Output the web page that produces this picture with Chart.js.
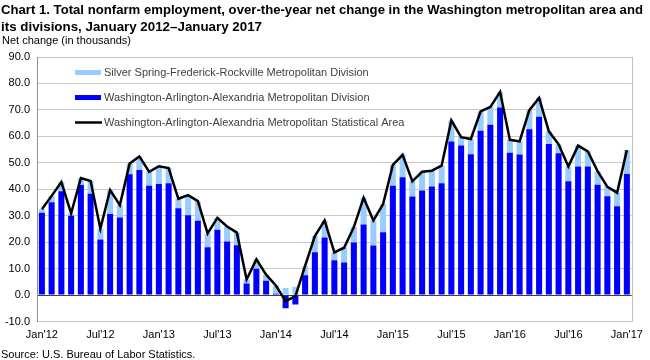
<!DOCTYPE html>
<html>
<head>
<meta charset="utf-8">
<script src="https://cdn.jsdelivr.net/npm/chart.js@4.4.1/dist/chart.umd.min.js"></script>
<style>
  html, body { margin: 0; padding: 0; background: #fff; }
  #wrap { position: relative; width: 650px; height: 360px; overflow: hidden; font-family: "Liberation Sans", Arial, sans-serif; }
  .tline { position: absolute; left: 1px; font-size: 13.5px; font-weight: bold; line-height: 17px; color: #000; white-space: nowrap; transform-origin: 0 50%; }
  #t1 { top: 1px; }
  #t2 { top: 18px; }
  #ytitle { position: absolute; left: 2px; top: 34px; font-size: 11px; color: #000; white-space: nowrap; }
  #source { position: absolute; left: 1px; top: 348px; font-size: 11px; color: #000; white-space: nowrap; }
  #chartBox { position: absolute; left: 0; top: 0; width: 650px; height: 360px; }
</style>
</head>
<body>
<div id="wrap">
  <div id="chartBox"><canvas id="c"></canvas></div>
  <div id="t1" class="tline">Chart 1. Total nonfarm employment, over-the-year net change in the Washington metropolitan area and</div>
  <div id="t2" class="tline">its divisions, January 2012–January 2017</div>
  <div id="ytitle">Net change (in thousands)</div>
  <div id="source">Source: U.S. Bureau of Labor Statistics.</div>
</div>
<script>
const months = [
  "Jan'12","Feb'12","Mar'12","Apr'12","May'12","Jun'12","Jul'12","Aug'12","Sep'12","Oct'12","Nov'12","Dec'12",
  "Jan'13","Feb'13","Mar'13","Apr'13","May'13","Jun'13","Jul'13","Aug'13","Sep'13","Oct'13","Nov'13","Dec'13",
  "Jan'14","Feb'14","Mar'14","Apr'14","May'14","Jun'14","Jul'14","Aug'14","Sep'14","Oct'14","Nov'14","Dec'14",
  "Jan'15","Feb'15","Mar'15","Apr'15","May'15","Jun'15","Jul'15","Aug'15","Sep'15","Oct'15","Nov'15","Dec'15",
  "Jan'16","Feb'16","Mar'16","Apr'16","May'16","Jun'16","Jul'16","Aug'16","Sep'16","Oct'16","Nov'16","Dec'16",
  "Jan'17"
];

// Washington-Arlington-Alexandria Metropolitan Division
const waaDivision = [
  31.1, 35.1, 39.2, 30.0, 41.6, 38.3, 21.0, 30.6, 29.3, 45.7, 47.3, 41.3,
  42.0, 42.3, 32.8, 30.2, 28.1, 18.1, 24.7, 20.2, 18.8, 4.4, 9.9, 5.4,
  0.5, -5.0, -3.6, 7.5, 16.2, 21.8, 13.2, 12.3, 19.9, 26.7, 18.7, 23.7,
  41.3, 44.5, 37.3, 39.5, 41.0, 42.3, 58.1, 56.5, 53.2, 62.1, 64.4, 70.9,
  53.8, 53.1, 62.7, 67.4, 57.1, 53.6, 43.0, 48.6, 48.6, 41.7, 37.4, 33.6,
  45.8
];

// Silver Spring-Frederick-Rockville Metropolitan Division
const silverSpring = [
  1.3, 2.4, 3.5, 0.9, 2.6, 4.8, 4.1, 9.1, 4.7, 4.0, 5.1, 5.3,
  6.7, 5.7, 3.6, 7.6, 7.4, 5.2, 4.5, 5.7, 4.8, 1.5, 3.6, 2.3,
  3.1, 2.7, 3.1, 3.5, 6.1, 6.4, 2.9, 5.6, 5.8, 10.1, 9.5, 10.7,
  7.9, 8.5, 5.7, 7.1, 6.0, 6.6, 7.9, 3.2, 5.8, 7.3, 6.7, 5.9,
  4.9, 5.0, 7.2, 7.1, 4.8, 3.4, 5.6, 7.9, 5.7, 5.1, 3.5, 5.1,
  9.0
];

// Washington-Arlington-Alexandria Metropolitan Statistical Area
const waaMSA = [
  32.4, 37.5, 42.7, 30.9, 44.2, 43.1, 25.1, 39.7, 34.0, 49.7, 52.4, 46.6,
  48.7, 48.0, 36.4, 37.8, 35.5, 23.3, 29.2, 25.9, 23.6, 5.9, 13.5, 7.7,
  3.6, -2.3, -0.5, 11.0, 22.3, 28.2, 16.1, 17.9, 25.7, 36.8, 28.2, 34.4,
  49.2, 53.0, 43.0, 46.6, 47.0, 48.9, 66.0, 59.7, 59.0, 69.4, 71.1, 76.8,
  58.7, 58.1, 69.9, 74.5, 61.9, 57.0, 48.6, 56.5, 54.3, 46.8, 40.9, 38.7,
  54.8
];

const seriesNames = [
  "Silver Spring-Frederick-Rockville Metropolitan Division",
  "Washington-Arlington-Alexandria Metropolitan Division",
  "Washington-Arlington-Alexandria Metropolitan Statistical Area"
];

const yMin = -10, yMax = 90, yStep = 10;

const DARK = '#0000ff';
const LIGHT = '#99ccff';
const FONT = '"Liberation Sans", Arial, sans-serif';

// fit title lines to the reference widths
function fitWidth(id, target) {
  const el = document.getElementById(id);
  const w = el.getBoundingClientRect().width;
  if (w > 0) el.style.transform = 'scaleX(' + (target / w) + ')';
}
fitWidth('t1', 642);
fitWidth('t2', 261);

const legendPlugin = {
  id: 'insideLegend',
  afterDraw(chart) {
    const ctx = chart.ctx;
    ctx.save();
    const x0 = 75, tx = 104;
    const rows = [72.5, 97.5, 122.5];
    ctx.fillStyle = LIGHT;
    ctx.fillRect(x0, rows[0] - 2.5, 26, 5);
    ctx.fillStyle = DARK;
    ctx.fillRect(x0, rows[1] - 2.5, 26, 5);
    ctx.strokeStyle = '#000';
    ctx.lineWidth = 2.5;
    ctx.beginPath();
    ctx.moveTo(x0, rows[2]);
    ctx.lineTo(x0 + 27, rows[2]);
    ctx.stroke();
    ctx.font = '11px ' + FONT;
    ctx.fillStyle = '#404040';
    ctx.textBaseline = 'middle';
    ctx.textAlign = 'left';
    seriesNames.forEach((n, i) => ctx.fillText(n, tx, rows[i]));
    ctx.restore();
  }
};

const framePlugin = {
  id: 'frame',
  beforeDatasetsDraw(chart) {
    const a = chart.chartArea, ctx = chart.ctx;
    ctx.save();
    ctx.strokeStyle = '#c0c0c0';
    ctx.lineWidth = 1;
    ctx.beginPath();
    ctx.moveTo(Math.round(a.right) + 0.5, a.top);
    ctx.lineTo(Math.round(a.right) + 0.5, a.bottom);
    ctx.stroke();
    ctx.restore();
  }
};

new Chart(document.getElementById('c'), {
  type: 'bar',
  data: {
    labels: months,
    datasets: [
      { type: 'line', label: seriesNames[2], data: waaMSA, borderColor: '#000', borderWidth: 2.5,
        pointRadius: 0, tension: 0, fill: false, order: 0 },
      { label: seriesNames[1], data: waaDivision, backgroundColor: DARK, order: 1, stack: 's',
        barPercentage: 0.62, categoryPercentage: 1.0 },
      { label: seriesNames[0], data: silverSpring, backgroundColor: LIGHT, order: 1, stack: 's',
        barPercentage: 0.62, categoryPercentage: 1.0 }
    ]
  },
  options: {
    responsive: true,
    maintainAspectRatio: false,
    animation: false,
    layout: { padding: { top: 57, right: 14, bottom: 0, left: 0 } },
    plugins: { legend: { display: false }, tooltip: { enabled: false }, title: { display: false } },
    scales: {
      x: {
        stacked: true,
        offset: true,
        grid: { display: false, drawTicks: false },
        border: { display: false },
        afterFit(s) { s.height = 38.5; },
        ticks: {
          autoSkip: false, maxRotation: 0, minRotation: 0, padding: 7,
          color: '#000', font: { size: 11, family: FONT },
          callback(v, i) { return i % 6 === 0 ? months[i] : null; }
        }
      },
      y: {
        stacked: true,
        min: yMin, max: yMax,
        afterFit(s) { s.width = 37; },
        grid: {
          drawTicks: false,
          color: (c) => (c.tick && c.tick.value === 0) ? '#404040' : '#c8c8c8',
          lineWidth: 1
        },
        border: { display: true, color: '#909090', width: 1 },
        ticks: {
          stepSize: yStep, padding: 7, color: '#000', font: { size: 11, family: FONT },
          callback(v) { return Number(v).toFixed(1); }
        }
      }
    }
  },
  plugins: [framePlugin, legendPlugin]
});
</script>
</body>
</html>
